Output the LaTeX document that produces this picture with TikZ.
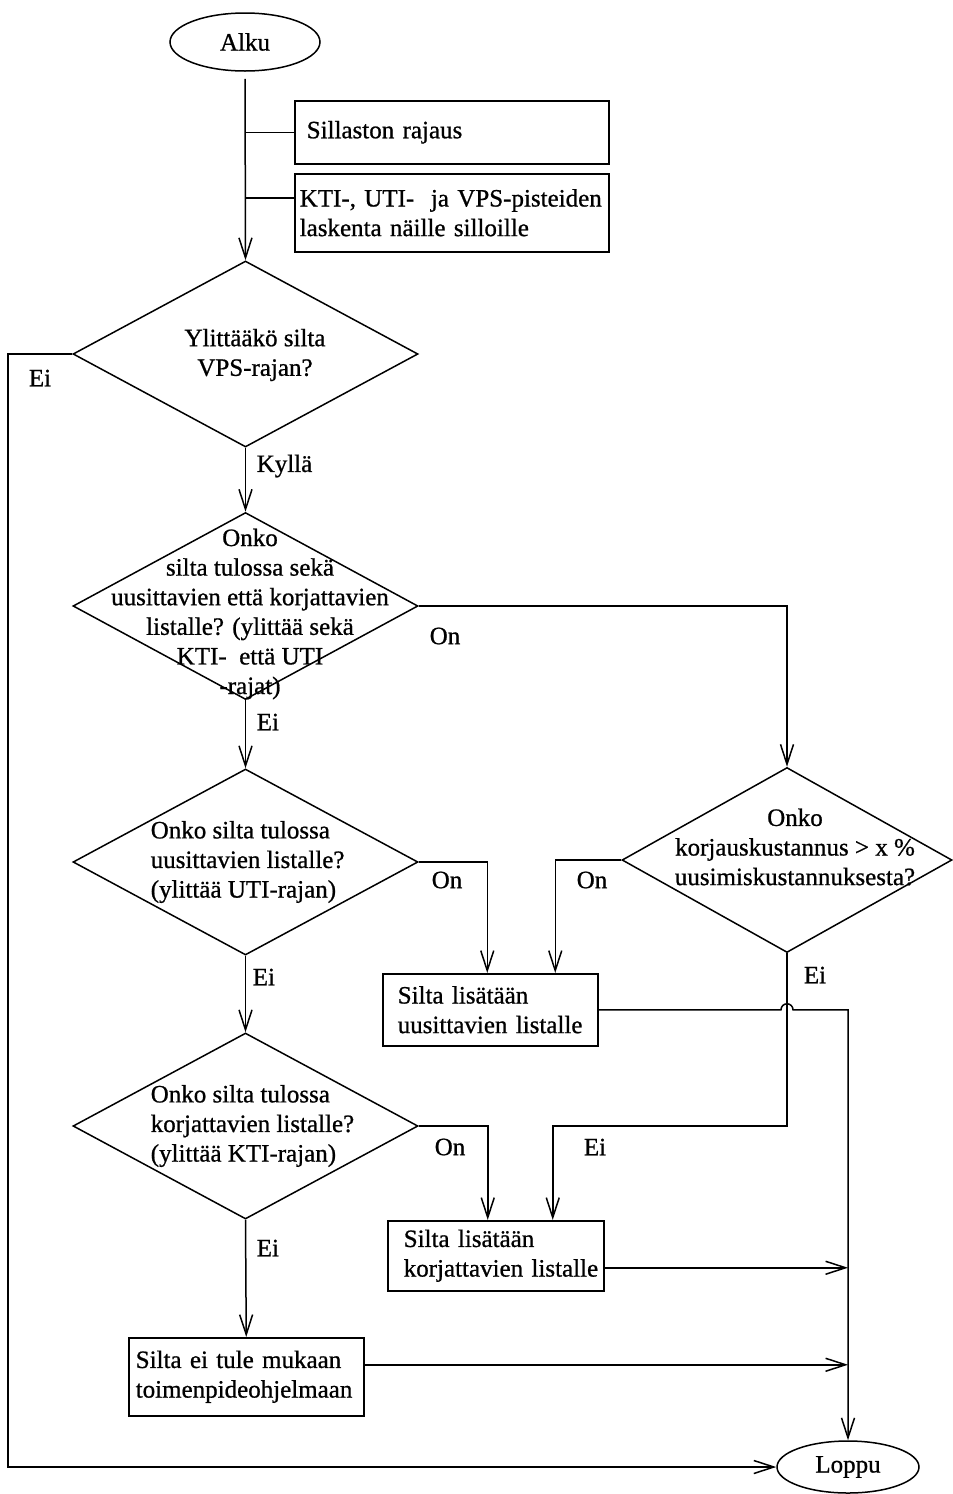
\documentclass[tikz,border=0pt]{standalone}
\usepackage{fontspec}
\setmainfont{Liberation Serif}[FakeBold=0.8]
\usetikzlibrary{shapes.geometric,arrows.meta}
\begin{document}
\begin{tikzpicture}[x=1pt,y=-1pt,line width=1.5pt,
  every node/.style={font=\fontsize{25}{29.6}\selectfont},
  arr/.style={-{Straight Barb[length=20pt,width=13pt]}},
  dec/.style={draw,diamond,minimum width=345pt,minimum height=186pt,inner sep=0pt},
  term/.style={draw,ellipse,inner sep=0pt},
  boxn/.style={draw,rectangle,anchor=north west,align=left,inner ysep=0pt},
  lbl/.style={inner sep=0pt}]
\useasboundingbox (0,0) rectangle (953,1494);

% nodes
\node[term,minimum width=150pt,minimum height=58pt] (alku) at (245,42) {Alku};
\node[boxn,minimum height=63pt,text width=290pt,inner xsep=12pt] (b1) at (294,100) {Sillaston rajaus};
\node[boxn,minimum height=78pt,text width=304pt,inner xsep=5pt] (b2) at (294,173) {\mbox{KTI-, UTI-~ ja VPS-pisteiden}\\\mbox{laskenta näille silloille}};

\node[dec] (d1) at (245.5,354) {};
\node[lbl,align=center] (t1) at (255,355) {Ylittääkö silta\\VPS-rajan?};

\node[dec,minimum height=187pt] (d2) at (245.5,606) {};
\node[lbl,align=center] (t2) at (250,614) {Onko\\silta tulossa sekä\\uusittavien että korjattavien\\listalle? (ylittää sekä\\KTI-~ että UTI\\-rajat)};

\node[dec] (d3) at (245.5,862) {};
\node[lbl,align=left,anchor=west] (t3) at (150,862) {Onko silta tulossa\\uusittavien listalle?\\(ylittää UTI-rajan)};

\node[dec,minimum width=330pt,minimum height=185pt] (d4) at (787,860) {};
\node[lbl,align=center] (t4) at (795,847) {Onko\\korjauskustannus > x \%\\uusimiskustannuksesta?};

\node[dec] (d5) at (245.5,1126) {};
\node[lbl,align=left,anchor=west] (t5) at (150,1126) {Onko silta tulossa\\korjattavien listalle?\\(ylittää KTI-rajan)};

\node[boxn,minimum height=72pt,text width=185pt,inner xsep=15pt] (b3) at (382,973) {\mbox{Silta lisätään}\\\mbox{uusittavien listalle}};
\node[boxn,minimum height=70pt,text width=184pt,inner xsep=16pt] (b4) at (387,1220) {\mbox{Silta lisätään}\\\mbox{korjattavien listalle}};
\node[boxn,minimum height=78pt,text width=221pt,inner xsep=7pt] (b5) at (128,1337) {\mbox{Silta ei tule mukaan}\\\mbox{toimenpideohjelmaan}};

\node[term,minimum width=142pt,minimum height=52pt] (loppu) at (848,1467) {Loppu};

% labels
\node[lbl] (lEi1) at (40,378) {Ei};
\node[lbl,anchor=west] (lKy) at (256,466) {Kyllä};
\node[lbl] (lOn1) at (445,636) {On};
\node[lbl,anchor=west] (lEi2) at (256,722) {Ei};
\node[lbl] (lOn2) at (447,880) {On};
\node[lbl] (lOn3) at (592,880) {On};
\node[lbl] (lEi3) at (815,975) {Ei};
\node[lbl,anchor=west] (lEi4) at (252,977) {Ei};
\node[lbl] (lOn4) at (450,1147) {On};
\node[lbl] (lEi5) at (595,1147) {Ei};
\node[lbl,anchor=west] (lEi6) at (256,1248) {Ei};

% connectors
\coordinate (cL) at (8,354);
\coordinate (j1) at (d4.south |- d5.east);
\coordinate (rc) at (loppu.north |- b3.east);

\draw[arr,shorten <=7pt] (alku.south) -- (d1.north);
\draw (alku.south |- b1.west) -- (b1.west);
\draw ([yshift=15pt]b2.west -| alku.south) -- ([yshift=15pt]b2.west);
\draw[arr] (d1.west) -- (cL) |- (loppu.west);
\draw[arr] (d1.south) -- (d2.north);
\draw[arr] (d2.east) -| (d4.north);
\draw[arr] (d2.south) -- (d3.north);
\draw[arr] (d3.east) -| ([xshift=-3pt]b3.north);
\draw[arr] (d4.west) -| ([xshift=65pt]b3.north);
\draw[arr] (d3.south) -- (d5.north);
\draw[arr] (d5.east) -| ([xshift=-8pt]b4.north);
\draw[arr] (d4.south) -- (j1) -| ([xshift=57pt]b4.north);
\draw[arr] (d5.south) -- (b5.north);
\draw[arr] (b3.east) -- ([xshift=-6pt]d4.south |- b3.east) arc[start angle=180,end angle=0,radius=6pt] -- (rc) -- (loppu.north);
\draw[arr] ([yshift=-12pt]b4.east) -- ([yshift=-12pt]b4.east -| loppu.north);
\draw[arr] ([yshift=12pt]b5.east) -- ([yshift=12pt]b5.east -| loppu.north);
\end{tikzpicture}
\end{document}
